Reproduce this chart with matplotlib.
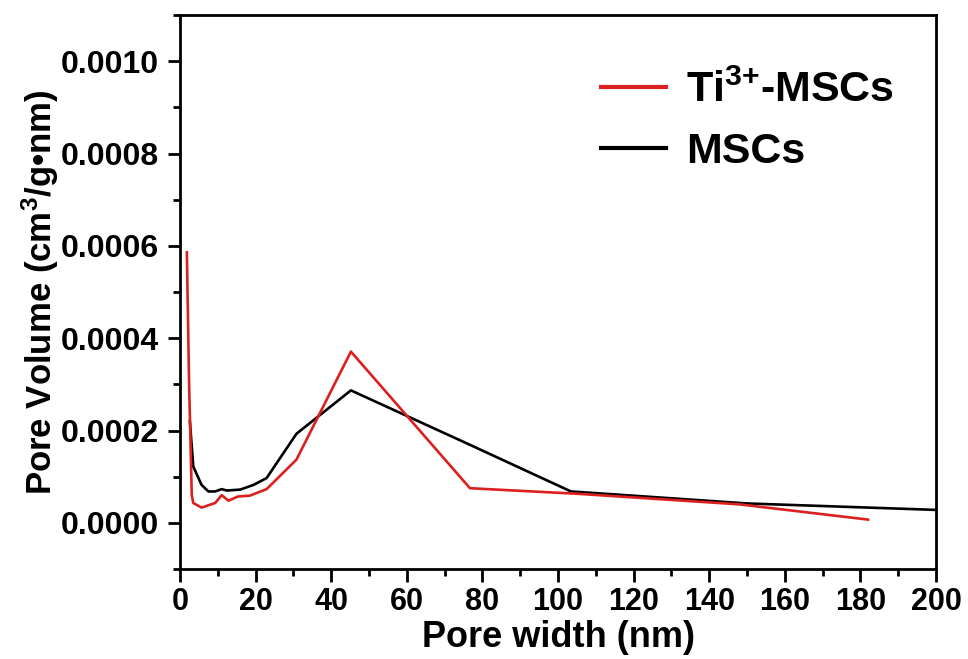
import matplotlib.pyplot as plt
from matplotlib.ticker import MultipleLocator, FormatStrFormatter

# ── Data ──────────────────────────────────────────────────────────────────────
ti_width  = [1.8, 2.4, 3.1, 3.5, 5.7, 9.3, 11.0, 12.8, 15.3, 18.5, 22.9,
             30.8, 45.2, 76.7, 105.0, 148.0, 182.0]
ti_volume = [0.000586, 0.00030, 0.00006, 0.000043, 0.000033, 0.000043, 0.00006,
             0.000048, 0.000057, 0.000059, 0.000073,
             0.000137, 0.000371, 0.000075, 0.000063, 0.00004, 0.000007]

msc_width  = [2.6, 3.5, 5.7, 7.5, 9.3, 11.0, 12.4, 15.9, 19.4, 22.9,
              30.8, 45.2, 76.7, 103.4, 150.0, 200.0]
msc_volume = [0.00022, 0.000122, 0.000082, 0.000068, 0.000068, 0.000073,
              0.00007, 0.000072, 0.000082, 0.000097,
              0.000193, 0.000287, 0.000169, 0.000068, 0.000042, 0.000028]

RED   = "#dc1f1f"
BLACK = "#000000"

plt.rcParams["font.family"] = ["Liberation Sans", "DejaVu Sans"]
plt.rcParams["font.weight"] = "bold"
plt.rcParams["mathtext.fontset"] = "custom"
plt.rcParams["mathtext.rm"] = "Liberation Sans:bold"
plt.rcParams["mathtext.it"] = "Liberation Sans:bold"
plt.rcParams["mathtext.bf"] = "Liberation Sans:bold"

fig = plt.figure(figsize=(9.68, 6.59), dpi=100)
ax = fig.add_axes([0.186, 0.1366, 0.781, 0.8404])

ax.plot(msc_width, msc_volume, color=BLACK, lw=1.9, label="MSCs", zorder=2)
ax.plot(ti_width, ti_volume, color=RED, lw=1.9, label="Ti$^{3{+}}$-MSCs", zorder=3)

ax.set_xlim(0, 200)
ax.set_ylim(-0.0001, 0.0011)
ax.xaxis.set_major_locator(MultipleLocator(20))
ax.xaxis.set_minor_locator(MultipleLocator(10))
ax.yaxis.set_major_locator(MultipleLocator(0.0002))
ax.yaxis.set_minor_locator(MultipleLocator(0.0001))
ax.yaxis.set_major_formatter(FormatStrFormatter("%.4f"))

ax.tick_params(which="both", direction="out", top=False, right=False, width=2)
ax.tick_params(which="major", length=9)
ax.tick_params(which="minor", length=5)
ax.tick_params(axis="x", labelsize=22, pad=4)
ax.tick_params(axis="y", labelsize=23, pad=6)
for sp in ax.spines.values():
    sp.set_linewidth(2)

for lab in ax.get_xticklabels() + ax.get_yticklabels():
    lab.set_fontweight("bold")

ax.set_xlabel("Pore width (nm)", fontsize=26, fontweight="bold", labelpad=2)
ax.set_ylabel("Pore Volume (cm$^{3}$/g\u2022nm)", fontsize=25, fontweight="bold",
              labelpad=0)

handles, labels = ax.get_legend_handles_labels()
leg = ax.legend(handles[::-1], labels[::-1], loc="upper left", frameon=False,
                fontsize=31, handlelength=1.5, handletextpad=0.47,
                labelspacing=0.48, borderpad=0, borderaxespad=0,
                bbox_to_anchor=(0.557, 0.9))
for t in leg.get_texts():
    t.set_fontweight("bold")
for l in leg.get_lines():
    l.set_linewidth(3)

fig.savefig("out.png", dpi=100)
